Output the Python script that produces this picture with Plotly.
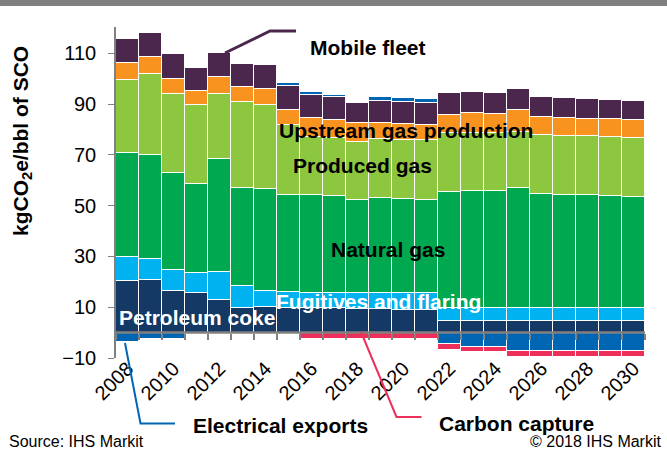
import plotly.graph_objects as go

years = [str(y) for y in range(2008, 2031)]
tick_years = [str(y) for y in range(2008, 2031, 2)]

petroleum_coke = [20.4, 20.9, 16.5, 15.5, 13.0, 9.8, 10.2, 9.8, 9.6, 9.6, 9.3, 9.3, 8.9, 8.9,
                  4.5, 4.5, 4.5, 4.5, 4.5, 4.5, 4.5, 4.5, 4.5]
fugitives = [9.3, 8.0, 8.1, 8.0, 10.8, 8.7, 6.2, 6.1, 6.2, 6.2, 6.5, 6.5, 6.7, 6.7,
             5.3, 5.3, 5.3, 5.3, 5.3, 5.3, 5.3, 5.3, 5.3]
natural_gas = [41.2, 41.2, 38.2, 35.0, 44.7, 38.4, 40.3, 38.4, 38.4, 38.0, 36.6, 37.4, 37.2, 36.8,
               45.6, 46.0, 45.8, 47.3, 44.7, 44.6, 44.3, 44.0, 43.7]
produced_gas = [28.7, 31.9, 31.1, 31.1, 25.4, 33.8, 32.8, 27.5, 23.0, 22.7, 22.8, 23.1, 23.0, 23.3,
                23.4, 23.0, 23.0, 21.9, 23.3, 23.2, 23.2, 23.2, 23.3]
upstream_gas = [6.6, 6.5, 6.0, 5.6, 6.9, 6.0, 6.4, 5.9, 7.5, 7.2, 7.4, 6.1, 6.2, 6.1,
                7.0, 7.6, 7.4, 8.7, 7.0, 6.9, 6.8, 7.0, 6.9]
mobile_fleet = [9.3, 9.6, 9.9, 9.1, 9.4, 9.2, 9.5, 9.5, 9.0, 9.0, 7.7, 8.9, 9.0, 8.6,
                8.5, 8.5, 8.3, 8.1, 8.0, 7.9, 7.9, 7.6, 7.6]
electrical_exports = [-3.8, -2.6, -2.5, -0.6, -0.3, -0.3, -0.3, 1.0, 1.1, 1.0, 0.0, 1.4, 1.3, 1.5,
                      -4.5, -5.5, -5.5, -7.1, -7.1, -7.1, -7.1, -7.1, -7.1]
carbon_capture = [0, 0, 0, 0, 0, 0, 0, -0.5, -2.5, -2.5, -2.5, -2.5, -2.5, -2.5,
                  -2.3, -2.3, -2.3, -2.4, -2.4, -2.4, -2.4, -2.4, -2.4]

series = [
    ("Petroleum coke", petroleum_coke, "#143964"),
    ("Fugitives and flaring", fugitives, "#00B2EF"),
    ("Natural gas", natural_gas, "#00A94F"),
    ("Produced gas", produced_gas, "#8DC63F"),
    ("Upstream gas production", upstream_gas, "#F7931E"),
    ("Mobile fleet", mobile_fleet, "#4B264D"),
    ("Electrical exports", electrical_exports, "#0065B3"),
    ("Carbon capture", carbon_capture, "#EE2F5A"),
]

FONT = "Arial, Liberation Sans, sans-serif"
W, H = 667, 453
ML, MR, MT, MB = 116, 22, 27, 95
PW, PH = W - ML - MR, H - MT - MB
YMIN, YMAX = -10, 120.4
XMIN, XMAX = -0.5, len(years) - 0.5


def px(x):
    return (x - ML) / PW


def py(y):
    return (H - MB - y) / PH


fig = go.Figure()
for name, vals, col in series:
    fig.add_trace(go.Bar(
        x=years, y=vals, name=name, marker=dict(color=col, line=dict(color="white", width=1)),
        showlegend=False,
    ))

# helper invisible trace so the zero-level category axis gets its boundary ticks
fig.add_trace(go.Scatter(x=years, y=[0] * len(years), xaxis="x2", yaxis="y", mode="markers",
                         marker=dict(opacity=0), showlegend=False, hoverinfo="skip"))

annotations = []


def label(text, x, y, color="black", size=21, bold=True, xanchor="center", angle=0):
    t = f"<b>{text}</b>" if bold else text
    annotations.append(dict(text=t, x=px(x), y=py(y), xref="paper", yref="paper",
                            xanchor=xanchor, yanchor="middle", showarrow=False, textangle=angle,
                            font=dict(family=FONT, size=size, color=color)))


label("Mobile fleet", 368, 47)
label("Upstream gas production", 406, 130)
label("Produced gas", 362, 166)
label("Natural gas", 388, 249)
label("Fugitives and flaring", 378, 301, color="white")
label("Petroleum coke", 197, 317, color="white")
label("Electrical exports", 280, 425)
label("Carbon capture", 516, 424)
label("kgCO<sub>2</sub>e/bbl of SCO", 22, 141, angle=-90)
label("Source: IHS Markit", 7, 441, size=16, bold=False, xanchor="left")
label("© 2018 IHS Markit", 664, 441, size=16, bold=False, xanchor="right")


def path(points):
    d = "M " + " L ".join(f"{px(a):.5f},{py(b):.5f}" for a, b in points)
    return d


shapes = [
    dict(type="rect", xref="paper", yref="paper", x0=px(-5), x1=px(W + 5), y0=py(6), y1=py(-3),
         fillcolor="#808080", line=dict(width=0), layer="above"),
    dict(type="line", xref="x", yref="y", x0=XMIN, x1=XMAX, y0=0, y1=0,
         line=dict(color="#808080", width=2.5), layer="above"),
    dict(type="path", xref="paper", yref="paper", path=path([(225, 53), (270, 31), (296, 31)]),
         line=dict(color="#4B264D", width=3)),
    dict(type="path", xref="paper", yref="paper", path=path([(125, 343), (140.5, 423.5), (175, 423.5)]),
         line=dict(color="#0065B3", width=2)),
    dict(type="path", xref="paper", yref="paper", path=path([(361, 332), (396.5, 417), (421.5, 417)]),
         line=dict(color="#EE2F5A", width=2)),
]

fig.update_layout(
    width=W, height=H, margin=dict(l=ML, r=MR, t=MT, b=MB, autoexpand=False),
    barmode="relative", bargap=0,
    plot_bgcolor="white", paper_bgcolor="white",
    font=dict(family=FONT, color="black"),
    annotations=annotations, shapes=shapes,
    xaxis=dict(type="category", range=[XMIN, XMAX], autorange=False,
               tickmode="array", tickvals=tick_years, ticktext=tick_years,
               tickangle=-45, tickfont=dict(size=20, color="black"), showline=False, ticks="",
               showgrid=False, zeroline=False, ticklabelstandoff=-6),
    xaxis2=dict(type="category", overlaying="x", matches="x", anchor="free",
                position=(0 - YMIN) / (YMAX - YMIN), showline=False,
                ticks="outside", tickson="boundaries", ticklen=6,
                tickcolor="#808080", tickwidth=1.5, showticklabels=False, showgrid=False,
                zeroline=False),
    yaxis=dict(range=[YMIN, YMAX], autorange=False, tickmode="array",
               tickvals=list(range(-10, 111, 20)),
               tickfont=dict(size=20, color="black"), showline=True, linecolor="#808080",
               linewidth=1.5, ticks="outside", ticklen=6, tickcolor="#808080", showgrid=False,
               zeroline=False, ticklabelstandoff=8),
)

fig.write_html("out.html", config={"displayModeBar": False},
               post_script="document.body.style.margin='0';document.body.style.overflow='hidden';")
